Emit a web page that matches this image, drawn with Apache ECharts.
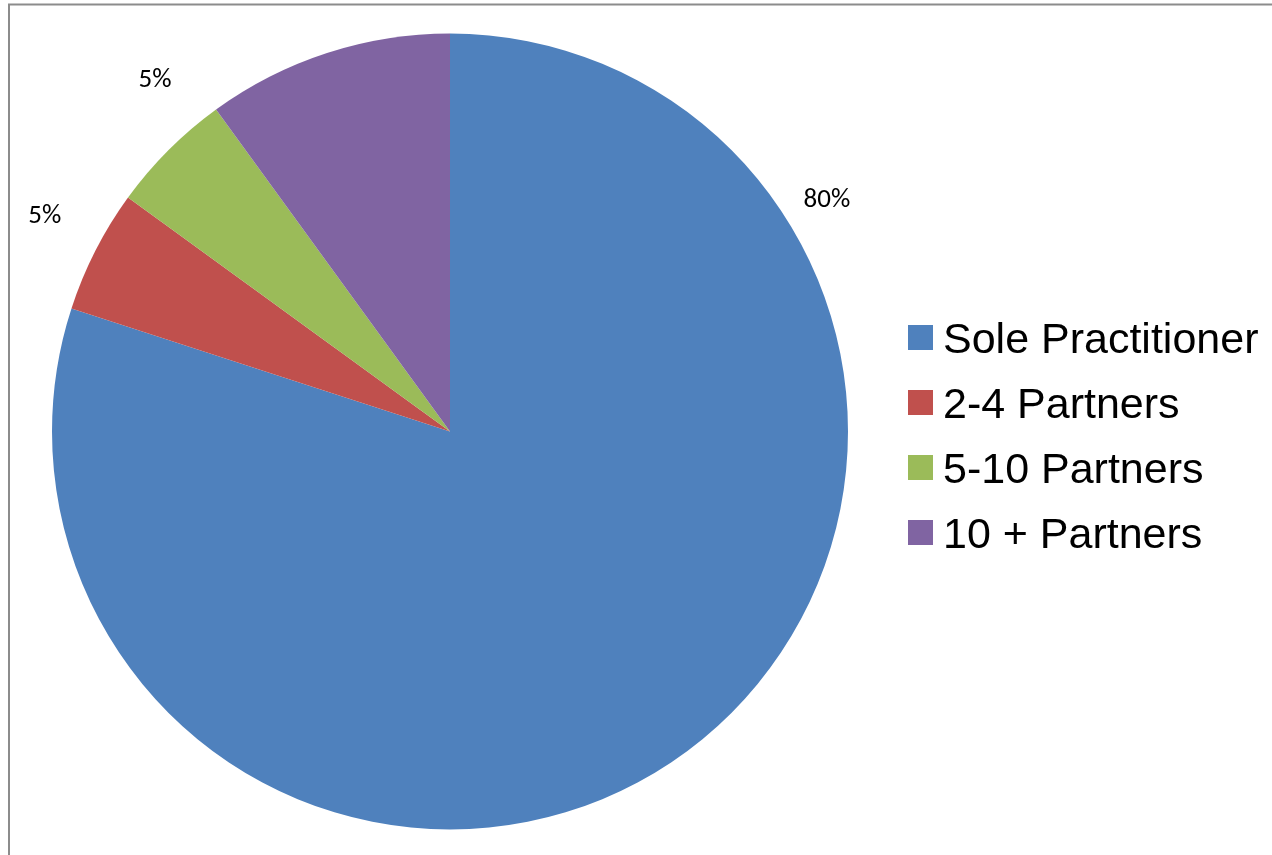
<!DOCTYPE html>
<html>
<head>
<meta charset="utf-8">
<title>Practice size</title>
<script src="https://cdn.jsdelivr.net/npm/echarts@6/dist/echarts.min.js"></script>
<style>
  html, body { margin: 0; padding: 0; background: #ffffff; }
  #chart { width: 1272px; height: 855px; }
</style>
</head>
<body>
<div id="chart"></div>
<script>
// Share of firms by practice size
const categories = ['Sole Practitioner', '2-4 Partners', '5-10 Partners', '10 + Partners'];
const shares = [80, 5, 5, 10];
const showLabel = [true, true, true, false];
const colors = ['#4F81BD', '#C0504D', '#9BBB59', '#8064A2'];

const CX = 450, CY = 431.5, R = 398;
const total = shares.reduce((a, b) => a + b, 0);

// label anchor: near the slice's mid-angle (clockwise from 12 o'clock),
// nudged to a best-fit spot outside the rim
function labelAnchor(idx) {
  let before = 0;
  for (let i = 0; i < idx; i++) before += shares[i];
  let ang = (before + shares[idx] / 2) / total * 360;
  let dist = R + 60;
  if (idx === 0) { ang = 58.5; dist = R + 44; }
  if (idx === 1) { ang += 1; dist = R + 61; }
  if (idx === 2) { ang += 5; dist = R + 61; }
  const rad = ang * Math.PI / 180;
  return { x: CX + dist * Math.sin(rad), y: CY - dist * Math.cos(rad) };
}

const chart = echarts.init(document.getElementById('chart'), null, { renderer: 'canvas' });

chart.setOption({
  animation: false,
  backgroundColor: '#ffffff',
  color: colors,
  graphic: [
    {
      type: 'rect',
      shape: { x: 9, y: 4.5, width: 1400, height: 1000 },
      style: { fill: 'none', stroke: '#8c8c8c', lineWidth: 2 },
      silent: true,
      z: -1
    }
  ],
  legend: {
    orient: 'vertical',
    left: 908,
    top: 312,
    padding: 0,
    itemWidth: 25,
    itemHeight: 25,
    itemGap: 14,
    icon: 'rect',
    data: categories,
    formatter: name => '{t|' + name + '}',
    textStyle: {
      color: '#000000',
      padding: [0, 0, 0, 5],
      rich: {
        t: {
          fontFamily: 'Liberation Sans, Arial, sans-serif',
          fontSize: 43,
          lineHeight: 40,
          color: '#000000',
          padding: [8, 0, 0, 0]
        }
      }
    }
  },
  series: [
    {
      type: 'pie',
      center: [CX, CY],
      radius: [0, R],
      startAngle: 90,
      clockwise: true,
      avoidLabelOverlap: false,
      itemStyle: { borderWidth: 0 },
      emphasis: { disabled: true },
      label: {
        show: true,
        position: 'outside',
        formatter: p => p.value + '%',
        fontFamily: 'Carlito, Liberation Sans, Arial, sans-serif',
        fontSize: 27,
        color: '#000000'
      },
      labelLine: { show: false },
      labelLayout: function (params) {
        const a = labelAnchor(params.dataIndex);
        return { x: a.x, y: a.y, align: 'center', verticalAlign: 'middle' };
      },
      data: categories.map((name, i) => ({
        name: name,
        value: shares[i],
        label: { show: showLabel[i] }
      }))
    }
  ]
});
</script>
</body>
</html>
